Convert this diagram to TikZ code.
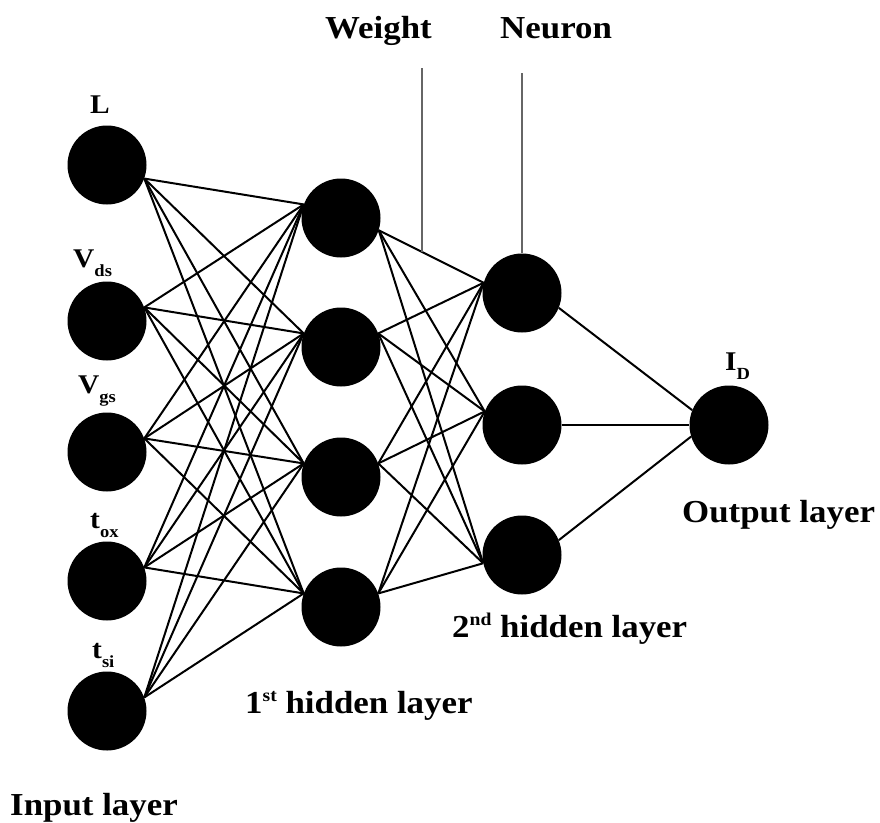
\documentclass[tikz,border=0pt]{standalone}
\usepackage{fontspec}
\setmainfont[FakeStretch=1.09]{Liberation Serif}
\usetikzlibrary{calc}
\newcommand\mysub[1]{\raisebox{-9pt}{\fontsize{17}{17}\selectfont #1}}
\newcommand\mysup[1]{\raisebox{12pt}{\fontsize{18}{18}\selectfont #1}}
\begin{document}
\begin{tikzpicture}[x=1pt,y=-1pt,
  neuron/.style={circle,fill=black,inner sep=0pt,minimum size=79pt},
  edge/.style={line width=2pt,black},
  pointer/.style={line width=2.2pt,black!60},
  biglabel/.style={font=\fontsize{32}{36}\selectfont\bfseries,inner sep=0pt,anchor=base west},
  varlabel/.style={font=\fontsize{27}{30}\selectfont\bfseries,inner sep=0pt,anchor=base west}]
\useasboundingbox (0,0) rectangle (880,822);
% input layer
\node[neuron] (i1) at (107,165) {};
\node[neuron] (i2) at (107,321) {};
\node[neuron] (i3) at (107,452) {};
\node[neuron] (i4) at (107,581) {};
\node[neuron] (i5) at (107,711) {};
% first hidden layer
\node[neuron] (ha1) at (341,218) {};
\node[neuron] (ha2) at (341,347) {};
\node[neuron] (ha3) at (341,477) {};
\node[neuron] (ha4) at (341,607) {};
% second hidden layer
\node[neuron] (hb1) at (522,293) {};
\node[neuron] (hb2) at (522,425) {};
\node[neuron] (hb3) at (522,555) {};
% output
\node[neuron] (o) at (729,425) {};
% connections
\foreach \i/\a in {1/-20,2/20,3/20,4/20,5/20}
  \foreach \j in {1,...,4}
    \draw[edge] (i\i.\a) -- (ha\j.160);
\foreach \i/\a in {1/-18,2/20,3/20,4/20}
  \foreach \j/\b in {1/165,2/160,3/192}
    \draw[edge] (ha\i.\a) -- (hb\j.\b);
\draw[edge] (hb1.-22) -- (o.158);
\draw[edge] (hb2.0) -- (o.180);
\draw[edge] (hb3.22) -- (o.197);
% pointers
\path (ha1.-18) -- coordinate[pos=0.41] (wpt) (hb1.165);
\coordinate (wtop) at (wpt |- 0,68);
\draw[pointer] (wtop) -- (wpt);
\coordinate (ntop) at (522,73);
\draw[pointer] (ntop) -- (hb1.north);
% variable labels
\node[varlabel] (lL) at (90,113) {L};
\node[varlabel] (lvds) at (73,267) {V\mysub{ds}};
\node[varlabel] (lvgs) at (78,393) {V\mysub{gs}};
\node[varlabel] (ltox) at (90,528) {t\mysub{ox}};
\node[varlabel] (ltsi) at (92,658) {t\mysub{si}};
\node[varlabel] (lid) at (725,370) {I\mysub{D}};
% layer labels
\node[biglabel] (lw) at (325,38) {Weight};
\node[biglabel] (ln) at (500,38) {Neuron};
\node[biglabel] (lh1) at (245,713) {1\mysup{st} hidden layer};
\node[biglabel] (lh2) at (452,637) {2\mysup{nd} hidden layer};
\node[biglabel] (lout) at (682,522) {Output layer};
\node[biglabel] (lin) at (10,815) {Input layer};
\end{tikzpicture}
\end{document}
